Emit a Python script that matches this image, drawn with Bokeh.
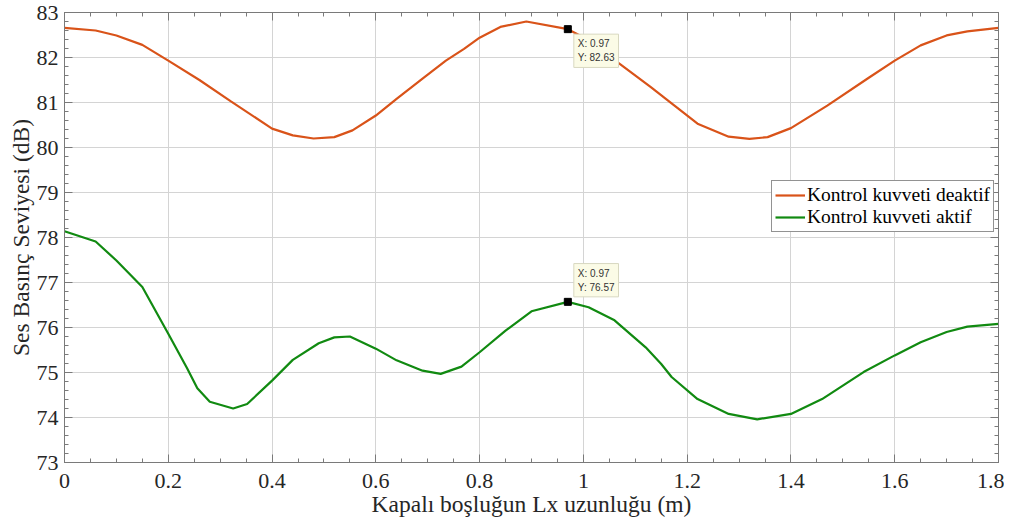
from bokeh.plotting import figure
from bokeh.models import (LinearAxis, FixedTicker, CustomJSTickFormatter, Legend, LegendItem,
                          Label, Range1d)
from bokeh.embed import file_html
from bokeh.resources import INLINE

# ---- data ----
x_deaktif = [0, 0.06, 0.1, 0.15, 0.2, 0.26, 0.32, 0.4, 0.44, 0.48, 0.52, 0.555, 0.6, 0.64,
             0.69, 0.735, 0.77, 0.8, 0.84, 0.89, 0.97, 1.0, 1.07, 1.13, 1.17, 1.22, 1.28,
             1.32, 1.355, 1.4, 1.47, 1.55, 1.6, 1.65, 1.7, 1.74, 1.8]
y_deaktif = [82.66, 82.6, 82.49, 82.28, 81.93, 81.5, 81.03, 80.42, 80.27, 80.2, 80.23, 80.38,
             80.71, 81.08, 81.53, 81.93, 82.19, 82.44, 82.68, 82.8, 82.63, 82.45, 81.86,
             81.34, 80.98, 80.53, 80.24, 80.19, 80.23, 80.43, 80.93, 81.55, 81.93, 82.27,
             82.49, 82.58, 82.66]

x_aktif = [0, 0.06, 0.1, 0.15, 0.2, 0.236, 0.256, 0.28, 0.325, 0.352, 0.4, 0.44, 0.49, 0.52,
           0.55, 0.6, 0.64, 0.69, 0.725, 0.765, 0.8, 0.85, 0.9, 0.97, 1.01, 1.06, 1.12, 1.15,
           1.17, 1.22, 1.28, 1.335, 1.4, 1.46, 1.54, 1.6, 1.65, 1.7, 1.74, 1.8]
y_aktif = [78.14, 77.91, 77.49, 76.9, 75.86, 75.1, 74.65, 74.35, 74.2, 74.3, 74.82, 75.28,
           75.65, 75.78, 75.8, 75.53, 75.27, 75.04, 74.97, 75.13, 75.45, 75.93, 76.36, 76.57,
           76.45, 76.16, 75.56, 75.19, 74.9, 74.41, 74.08, 73.96, 74.08, 74.41, 75.01, 75.38,
           75.67, 75.9, 76.02, 76.08]

tip_x = [0.97, 0.97]
tip_y = [82.63, 76.57]
tip_texts = ["X: 0.97\nY: 82.63", "X: 0.97\nY: 76.57"]

x_ticks = [0, 0.2, 0.4, 0.6, 0.8, 1.0, 1.2, 1.4, 1.6, 1.8]
y_ticks = [73, 74, 75, 76, 77, 78, 79, 80, 81, 82, 83]
x_minor = [i * 0.05 for i in range(37)]
y_minor = [73 + i * 0.2 for i in range(51)]

series_names = ["Kontrol kuvveti deaktif", "Kontrol kuvveti aktif"]
ORANGE = "#D95319"
GREEN = "#118a11"
SERIF = "Liberation Serif"
AXIS_C = "#7a7a7a"
TEXT_C = "#262626"

p = figure(frame_width=934, frame_height=450, output_backend="svg", toolbar_location=None,
           x_range=Range1d(0, 1.8), y_range=Range1d(73, 83),
           x_axis_location=None, y_axis_location=None,
           min_border_left=64, min_border_top=12, min_border_right=6, min_border_bottom=63)
p.background_fill_color = "white"
p.border_fill_color = "white"
p.outline_line_color = AXIS_C
p.outline_line_width = 1

fmt = CustomJSTickFormatter(code="return String(Math.round(tick*100)/100);")
blank = CustomJSTickFormatter(code="return '';")

def style(ax, labels=True):
    ax.axis_line_color = AXIS_C
    ax.major_tick_line_color = AXIS_C
    ax.minor_tick_line_color = AXIS_C
    ax.major_tick_in = 8
    ax.major_tick_out = 0
    ax.minor_tick_in = 4
    ax.minor_tick_out = 0
    ax.major_label_text_font = SERIF
    ax.major_label_text_font_size = "22px"
    ax.major_label_text_color = TEXT_C
    ax.axis_label_text_font = SERIF
    ax.axis_label_text_font_size = "23.5px"
    ax.axis_label_text_font_style = "normal"
    ax.axis_label_text_color = TEXT_C
    ax.formatter = fmt if labels else blank

xb = LinearAxis(); style(xb)
xb.ticker = FixedTicker(ticks=x_ticks, minor_ticks=x_minor)
xb.major_label_standoff = 11
xb.axis_label = "Kapalı boşluğun Lx uzunluğu (m)"
xb.axis_label_standoff = 0
p.add_layout(xb, "below")

yl = LinearAxis(); style(yl)
yl.ticker = FixedTicker(ticks=y_ticks, minor_ticks=y_minor)
yl.major_label_standoff = 6
yl.axis_label = "Ses Basınç Seviyesi (dB)"
yl.axis_label_standoff = 0
p.add_layout(yl, "left")

xt = LinearAxis(); style(xt, labels=False)
xt.ticker = FixedTicker(ticks=x_ticks, minor_ticks=x_minor)
xt.major_label_standoff = 0
xt.major_label_text_font_size = "0px"
p.add_layout(xt, "above")

yr = LinearAxis(); style(yr, labels=False)
yr.ticker = FixedTicker(ticks=y_ticks, minor_ticks=y_minor)
yr.major_label_standoff = 0
yr.major_label_text_font_size = "0px"
p.add_layout(yr, "right")

p.xgrid.ticker = FixedTicker(ticks=x_ticks)
p.ygrid.ticker = FixedTicker(ticks=y_ticks)
for g in (p.xgrid, p.ygrid):
    g.grid_line_color = "#d4d4d4"
    g.grid_line_width = 1

r1 = p.line(x_deaktif, y_deaktif, line_color=ORANGE, line_width=2.2)
r2 = p.line(x_aktif, y_aktif, line_color=GREEN, line_width=2.2)

p.scatter(tip_x, tip_y, marker="square", size=7, fill_color="black", line_color="black")

# data tip boxes
lab1 = Label(x=tip_x[0], y=tip_y[0], text=tip_texts[0], x_offset=6, y_offset=-5,
             anchor="top_left", text_font="Liberation Sans", text_font_size="10px",
             text_color="#333333", background_fill_color="#fbfbe6", border_line_color="#d8d8c0",
             padding=4, text_line_height=1.3)
lab2 = Label(x=tip_x[1], y=tip_y[1], text=tip_texts[1], x_offset=6, y_offset=5,
             anchor="bottom_left", text_font="Liberation Sans", text_font_size="10px",
             text_color="#333333", background_fill_color="#fbfbe6", border_line_color="#d8d8c0",
             padding=4, text_line_height=1.3)
p.add_layout(lab1)
p.add_layout(lab2)

legend = Legend(items=[LegendItem(label=series_names[0], renderers=[r1]),
                       LegendItem(label=series_names[1], renderers=[r2])],
                location=(707, 230), orientation="vertical")
legend.label_text_font = SERIF
legend.label_text_font_size = "19.5px"
legend.label_text_color = "#000000"
legend.glyph_width = 30
legend.glyph_height = 18
legend.label_height = 18
legend.label_standoff = 2
legend.spacing = 0
legend.padding = 3
legend.margin = 0
legend.border_line_color = TEXT_C
legend.border_line_width = 1
legend.background_fill_color = "white"
legend.background_fill_alpha = 1
p.add_layout(legend, "center")

open("out.html", "w").write(file_html(p, INLINE))
